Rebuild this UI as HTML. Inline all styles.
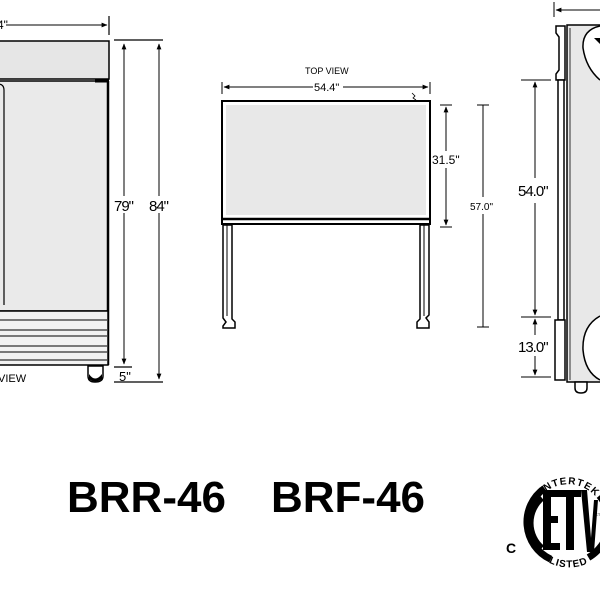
<!DOCTYPE html>
<html><head><style>body{margin:0;background:#fff}svg{display:block}</style></head>
<body>
<svg width="600" height="600" viewBox="0 0 600 600" xmlns="http://www.w3.org/2000/svg" font-family="Liberation Sans, sans-serif">
<defs>
<marker id="a" viewBox="0 0 10 10" refX="9" refY="5" markerWidth="6" markerHeight="6" orient="auto-start-reverse"><path d="M0,1 L10,5 L0,9 z" fill="#000"/></marker>
<path id="tp" d="M543,494 A37,37 0 0 1 599,501"/>
<path id="bp" d="M546.9,561.7 A45,45 0 0 0 592,561"/>
</defs>
<!-- LEFT FRONT VIEW -->
<line x1="0" y1="25" x2="107" y2="25" stroke="#000" stroke-width="1" marker-end="url(#a)"/>
<rect x="0" y="20" width="6" height="10" fill="#fff"/>
<text x="-3" y="29" font-size="12">4"</text>
<line x1="109" y1="16" x2="109" y2="35" stroke="#000" stroke-width="1.2"/>
<rect x="-2" y="41" width="111" height="38" fill="#e6e6e6" stroke="#000" stroke-width="1.5"/>
<rect x="-2" y="81" width="110" height="230" fill="#eaeaea" stroke="#000" stroke-width="1.5"/>
<line x1="95" y1="81" x2="109" y2="81" stroke="#000" stroke-width="3"/>
<line x1="108" y1="81" x2="108" y2="365" stroke="#000" stroke-width="2.5"/>
<path d="M-2,84 Q4,84 4,90 L4,305" fill="none" stroke="#000" stroke-width="1.2"/>
<rect x="-2" y="311" width="110" height="54" fill="#f2f2f2" stroke="#000" stroke-width="1.5"/>
<g stroke="#000" stroke-width="1"><line x1="0" y1="320" x2="107" y2="320"/><line x1="0" y1="330" x2="107" y2="330"/><line x1="0" y1="336" x2="107" y2="336"/><line x1="0" y1="346" x2="107" y2="346"/><line x1="0" y1="352" x2="107" y2="352"/><line x1="0" y1="360" x2="107" y2="360"/></g>
<path d="M88,366 L88,376 Q88,382 95,382 Q103,382 103,376 L103,366 Z" fill="#fff" stroke="#000" stroke-width="1.5"/>
<path d="M89,374 Q95,383 102,374 L102,379 Q95,384 89,379Z" fill="#000"/>
<text x="-2" y="382" font-size="11">VIEW</text>
<g stroke="#000" stroke-width="1.2">
<line x1="114" y1="40" x2="163" y2="40"/><line x1="114" y1="382" x2="163" y2="382"/><line x1="114" y1="367" x2="132" y2="367"/>
</g>
<line x1="124" y1="44" x2="124" y2="196" stroke="#000" marker-start="url(#a)"/>
<line x1="124" y1="213" x2="124" y2="364" stroke="#000" marker-end="url(#a)"/>
<line x1="159" y1="44" x2="159" y2="196" stroke="#000" marker-start="url(#a)"/>
<line x1="159" y1="213" x2="159" y2="379" stroke="#000" marker-end="url(#a)"/>
<text x="114" y="211" font-size="15" letter-spacing="-1">79"</text>
<text x="149" y="211" font-size="15" letter-spacing="-1">84"</text>
<text x="119" y="381" font-size="13">5"</text>
<!-- TOP VIEW -->
<text x="305" y="74" font-size="9">TOP VIEW</text>
<line x1="222" y1="82" x2="222" y2="94" stroke="#000"/>
<line x1="430" y1="82" x2="430" y2="94" stroke="#000"/>
<line x1="224" y1="87" x2="313" y2="87" stroke="#000" marker-start="url(#a)"/>
<line x1="343" y1="87" x2="428" y2="87" stroke="#000" marker-end="url(#a)"/>
<text x="314" y="91" font-size="11">54.4"</text>
<path d="M412,93 l3,3 l-2,2 l3,2" fill="none" stroke="#000" stroke-width="0.8"/>
<rect x="222" y="101" width="208" height="123" fill="#fff" stroke="#000" stroke-width="2"/>
<rect x="226" y="105" width="200" height="110" fill="#e8e8e8"/>
<line x1="222" y1="219" x2="430" y2="219" stroke="#000" stroke-width="2.5"/>
<g fill="#fff" stroke="#000" stroke-width="1.5">
<path d="M223,225 L223,318 L226,322 L223,326 L223,328 L235,328 L235,322 L232,319 L232,225 Z"/>
<path d="M420,225 L420,319 L417,322 L417,328 L429,328 L429,322 L426,318 L429,315 L429,225 Z"/>
</g>
<line x1="227" y1="225" x2="227" y2="316" stroke="#000" stroke-width="1"/>
<line x1="424" y1="225" x2="424" y2="316" stroke="#000" stroke-width="1"/>
<g stroke="#000" stroke-width="1"><line x1="440" y1="105" x2="452" y2="105"/><line x1="440" y1="227" x2="452" y2="227"/><line x1="477" y1="105" x2="489" y2="105"/><line x1="477" y1="327" x2="489" y2="327"/></g>
<line x1="446" y1="107" x2="446" y2="151" stroke="#000" marker-start="url(#a)"/>
<line x1="446" y1="168" x2="446" y2="225" stroke="#000" marker-end="url(#a)"/>
<line x1="483" y1="105" x2="483" y2="197" stroke="#000"/>
<line x1="483" y1="214" x2="483" y2="327" stroke="#000"/>
<text x="432" y="164" font-size="12">31.5"</text>
<text x="470" y="210" font-size="10">57.0"</text>
<!-- RIGHT SIDE VIEW -->
<line x1="554" y1="2" x2="554" y2="17" stroke="#000"/>
<line x1="556" y1="10" x2="600" y2="10" stroke="#000" marker-start="url(#a)"/>
<path d="M556,26 L565,26 L565,80 L556,80 L556,74 L559,70 L559,37 L556,33 Z" fill="#fff" stroke="#000" stroke-width="1.5"/>
<rect x="558" y="80" width="6" height="240" fill="#fff" stroke="#000" stroke-width="1.5"/>
<rect x="555" y="320" width="10" height="60" fill="#fff" stroke="#000" stroke-width="1.5"/>
<rect x="567" y="25" width="36" height="357" fill="#e8e8e8" stroke="#000" stroke-width="1.5"/>
<line x1="570" y1="28" x2="570" y2="380" stroke="#000" stroke-width="0.8"/>
<path d="M600,26 Q582,30 583,48 Q586,68 600,80" fill="#fff" stroke="#000" stroke-width="1.5"/>
<path d="M594,38 L600,38 L600,44Z" fill="#000"/>
<path d="M600,316 Q582,326 583,350 Q585,372 600,380" fill="#fff" stroke="#000" stroke-width="1.5"/>
<path d="M575,382 L575,388 Q575,393 581,393 Q587,393 587,388 L587,382Z" fill="#fff" stroke="#000" stroke-width="1.5"/>
<g stroke="#000" stroke-width="1"><line x1="521" y1="80" x2="551" y2="80"/><line x1="521" y1="317" x2="551" y2="317"/><line x1="521" y1="377" x2="551" y2="377"/></g>
<line x1="535" y1="82" x2="535" y2="178" stroke="#000" marker-start="url(#a)"/>
<line x1="535" y1="203" x2="535" y2="315" stroke="#000" marker-end="url(#a)"/>
<line x1="535" y1="319" x2="535" y2="335" stroke="#000" marker-start="url(#a)"/>
<line x1="535" y1="356" x2="535" y2="375" stroke="#000" marker-end="url(#a)"/>
<text x="518" y="196" font-size="15" letter-spacing="-1">54.0"</text>
<text x="518" y="352" font-size="15" letter-spacing="-1">13.0"</text>
<!-- TITLE -->
<text x="67" y="512" font-size="44" font-weight="bold">BRR-46</text>
<text x="271" y="512" font-size="44" font-weight="bold">BRF-46</text>
<!-- ETL -->
<text x="506" y="553" font-size="14" font-weight="bold">C</text>
<g fill="none" stroke="#000" stroke-width="7">
<path d="M550.7,559.2 A41,41 0 0 1 544.5,488.4"/>
<path d="M599.4,495.6 A41,41 0 0 1 588.5,557.5"/>
</g>
<text font-size="10" font-weight="bold"><textPath href="#tp" textLength="58" lengthAdjust="spacing">INTERTEK</textPath></text>
<text font-size="10" font-weight="bold"><textPath href="#bp" startOffset="2" textLength="40" lengthAdjust="spacing">LISTED</textPath></text>
<path d="M542,498 A33,33 0 0 0 542,548" fill="none" stroke="#000" stroke-width="6"/>
<path d="M543,490 L560,490 L560,497 L551,497 L551,516 L558,516 L558,523 L551,523 L551,543 L560,543 L560,550 L543,550Z" fill="#000"/>
<path d="M559,490 L581,490 L581,497 L574,497 L574,550 L566,550 L566,497 L559,497Z" fill="#000"/>
<path d="M581,490 L587,490 L591,538 L594,500 L598,500 L594,552 L587,552Z" fill="#000"/>
<text x="595" y="516" font-size="4">CT</text>
</svg>
</body></html>
